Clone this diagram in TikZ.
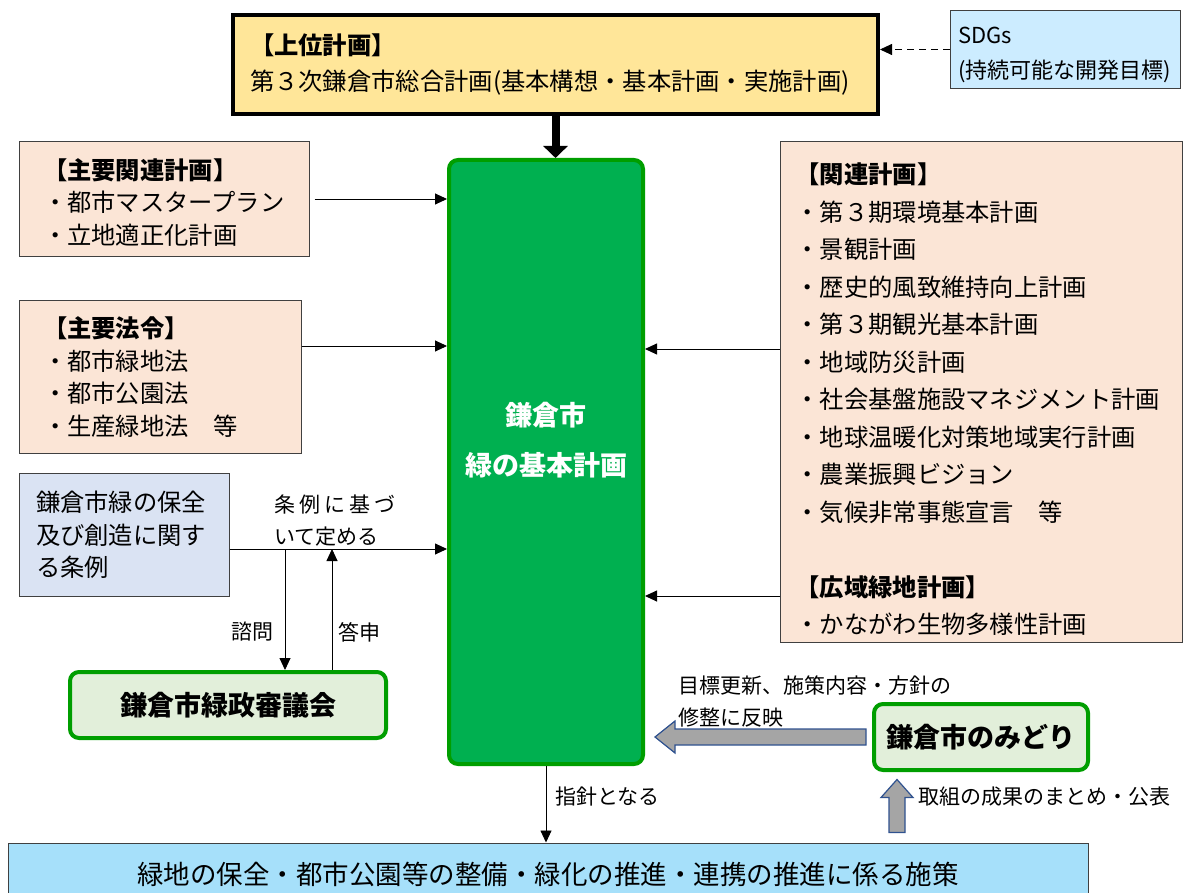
\documentclass[tikz,border=0pt]{standalone}
\usepackage{fontspec}
\setmainfont{Noto Sans CJK JP}
\usetikzlibrary{shapes,arrows,arrows.meta}
\definecolor{planyellow}{HTML}{FFE699}
\definecolor{sdgsblue}{HTML}{CCECFF}
\definecolor{peach}{HTML}{FBE5D6}
\definecolor{ordblue}{HTML}{DAE3F3}
\definecolor{maingreen}{HTML}{00B050}
\definecolor{bordergreen}{HTML}{009E00}
\definecolor{lightgreen}{HTML}{E2EFDA}
\definecolor{measureblue}{HTML}{A6E0FA}
\definecolor{arrowgray}{HTML}{A5A5A5}
\definecolor{arrowblue}{HTML}{2F528F}
\newcommand{\hdr}[1]{\textbf{#1}}
\newcommand{\toplift}[1]{\rule{0pt}{#1}}
\tikzstyle{arrow} = [-{Triangle[length=12pt,width=11pt]}, line width=0.9pt]
\tikzstyle{block} = [rectangle, draw=black!75, line width=1pt, anchor=north west, align=left, inner ysep=0pt, font=\fontsize{24.3}{32.5}\selectfont]
\tikzstyle{greenblock} = [rectangle, draw=bordergreen, line width=4pt, rounded corners=9pt, font=\bfseries\fontsize{27}{30}\selectfont]
\tikzstyle{blockarrow} = [draw=arrowblue, fill=arrowgray, line width=1.2pt, line join=miter]
\tikzstyle{note} = [inner sep=0pt, font=\fontsize{21}{32}\selectfont]

\begin{document}
\begin{tikzpicture}[x=1pt, y=-1pt]
\useasboundingbox (0,0) rectangle (1185,893);
% Place nodes
\node (upper) [block, fill=planyellow, draw=black, line width=4pt, inner xsep=17pt, text width=611pt, minimum height=99pt, font=\fontsize{24.3}{36}\selectfont] at (231,13) {\hdr{【上位計画】}\\第３次鎌倉市総合計画(基本構想・基本計画・実施計画)};
\node (sdgs) [block, fill=sdgsblue, inner xsep=8pt, text width=214pt, minimum height=78pt, font=\fontsize{22}{35}\selectfont] at (950,10) {\toplift{28pt}SDGs\\(持続可能な開発目標)};
\node (main) [greenblock, fill=maingreen, minimum width=194pt, minimum height=604pt] at (546,462) {};
\node (maintitle) [text=white, align=center, font=\bfseries\fontsize{27}{50}\selectfont] at (546,440) {鎌倉市\\緑の基本計画};
\node (keyplan) [block, fill=peach, inner xsep=24pt, text width=242pt, minimum height=115pt] at (18.5,141) {\toplift{27pt}\hdr{【主要関連計画】}\\・都市マスタープラン\\・立地適正化計画};
\node (laws) [block, fill=peach, inner xsep=24pt, text width=234pt, minimum height=153pt] at (18.5,300) {\hdr{【主要法令】}\\・都市緑地法\\・都市公園法\\・生産緑地法　等};
\node (ordinance) [block, fill=ordblue, inner xsep=17pt, text width=176pt, minimum height=123pt] at (18.5,473) {鎌倉市緑の保全\\及び創造に関す\\る条例};
\node (council) [greenblock, fill=lightgreen, minimum width=316pt, minimum height=66pt] at (228,705) {鎌倉市緑政審議会};
\node (related) [block, fill=peach, inner xsep=15pt, text width=372pt, minimum height=501pt, font=\fontsize{24.3}{37.5}\selectfont] at (780,141) {\toplift{35pt}\hdr{【関連計画】}\\・第３期環境基本計画\\・景観計画\\・歴史的風致維持向上計画\\・第３期観光基本計画\\・地域防災計画\\・社会基盤施設マネジメント計画\\・地球温暖化対策地域実行計画\\・農業振興ビジョン\\・気候非常事態宣言　等\\[37.5pt]\hdr{【広域緑地計画】}\\・かながわ生物多様性計画};
\node (midori) [greenblock, fill=lightgreen, minimum width=214pt, minimum height=66pt] at (981,737) {鎌倉市のみどり};
\node (measures) [rectangle, draw=black!75, line width=1pt, fill=measureblue, minimum width=1080pt, minimum height=62pt, font=\fontsize{26.5}{30}\selectfont] at (548,874) {緑地の保全・都市公園等の整備・緑化の推進・連携の推進に係る施策};

% Labels
\node (basislabel) [note, anchor=west, align=left] at (274,521) {条\kern4pt 例\kern4pt に\kern4pt 基\kern4pt づ\\いて定める};
\node (asklabel) [note] at (252,632) {諮問};
\node (replylabel) [note] at (359,632) {答申};
\node (guidelabel) [note, anchor=west] at (555,797) {指針となる};
\node (feedlabel) [note, anchor=west, align=left] at (678,702) {目標更新、施策内容・方針の\\修整に反映};
\node (publabel) [note, anchor=west] at (918,797) {取組の成果のまとめ・公表};

% Draw arrows
\draw [line width=8pt, -{Triangle[length=12pt,width=24pt]}] (upper.south) -- (upper.south |- main.north);
\draw [arrow, dash pattern=on 7pt off 5pt] (sdgs.west) -- (upper.east |- sdgs.west);
\draw [arrow, shorten <=5pt] (keyplan.east) -- (keyplan.east -| main.west);
\draw [arrow] (laws.east |- 0,346) -- (main.west |- 0,346);
\draw [arrow] (ordinance.east |- 0,549) -- (main.west |- 0,549);
\coordinate (ask) at (285,549);
\coordinate (reply) at (332,549);
\draw [arrow] (ask) -- (ask |- council.north);
\draw [arrow] (reply |- council.north) -- (reply);
\draw [arrow] (related.west |- 0,349) -- (main.east |- 0,349);
\draw [arrow] (related.west |- 0,596) -- (main.east |- 0,596);
\draw [arrow] (main.south) -- (main.south |- measures.north);

% Block arrows
\draw [blockarrow] ([xshift=-6pt]midori.west) ++(0,-8) -- ++(-191,0) -- ++(0,-8) -- ++(-20,16) -- ++(20,16) -- ++(0,-8) -- ++(191,0) -- cycle;
\coordinate (pubfoot) at ([xshift=25pt,yshift=10pt]measures.north -| midori.west);
\draw [blockarrow] (pubfoot) ++(-8,0) -- ++(0,-35) -- ++(-8,0) -- ++(16,-18) -- ++(16,18) -- ++(-8,0) -- ++(0,35) -- cycle;
\end{tikzpicture}
\end{document}
